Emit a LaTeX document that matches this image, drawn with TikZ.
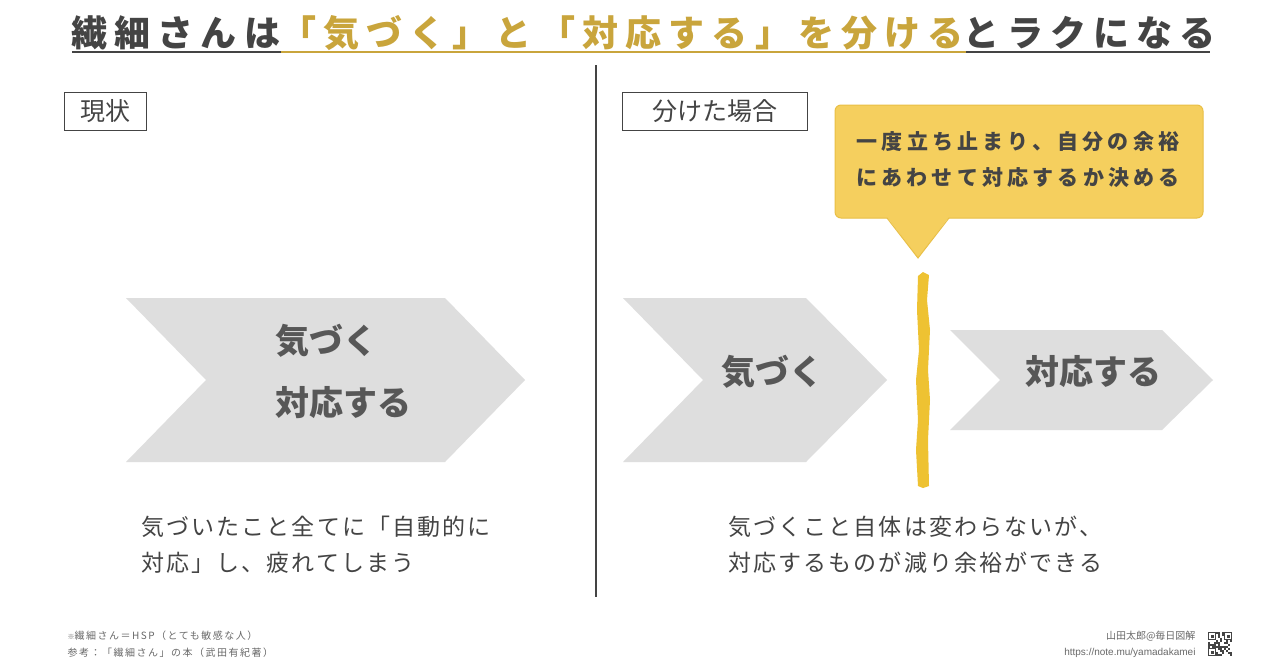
\documentclass[tikz,border=0pt]{standalone}
\usepackage{fontspec}
\newfontfamily\jp{Noto Sans CJK JP}
\newfontfamily\jpt[LetterSpace=20]{Noto Sans CJK JP}
\newfontfamily\jpb[LetterSpace=9]{Noto Sans CJK JP}
\newfontfamily\jpc[LetterSpace=20]{Noto Sans CJK JP}
\newfontfamily\jps[LetterSpace=15]{Noto Sans CJK JP}
\newfontfamily\lat{Liberation Sans}
\definecolor{dk}{HTML}{444444}
\definecolor{gold}{HTML}{C9A53C}
\definecolor{chev}{HTML}{DEDEDE}
\definecolor{ylw}{HTML}{F5CF5E}
\definecolor{ylwb}{HTML}{E9BF45}
\definecolor{bar}{HTML}{EEC232}
\begin{document}
\begin{tikzpicture}[x=1pt,y=-1pt,
  lbl/.style={draw=dk,line width=1pt,inner sep=0pt,minimum height=38pt,font=\jp\fontsize{25}{25}\selectfont,text=dk,anchor=north west},
  big/.style={font=\jp\bfseries\fontsize{34}{34}\selectfont,text=dk!90},
  body/.style={font=\jpb\fontsize{23}{23}\selectfont,text=dk,anchor=west},
  small/.style={font=\jps\fontsize{10}{10}\selectfont,text=dk!80}]
\useasboundingbox[fill=white] (0,0) rectangle (1280,670);
% title
\node[font=\jpt\bfseries\fontsize{36}{36}\selectfont,anchor=west,inner sep=0pt] (t) at (71,33)
 {\textcolor{dk}{繊細さんは}\textcolor{gold}{「気づく」と「対応する」を分ける}\textcolor{dk}{とラクになる}};
\draw[dk,line width=1.5pt] (72,52) -- (281,52);
\draw[gold,line width=1.5pt] (281,52) -- (966,52);
\draw[dk,line width=1.5pt] (966,52) -- (1210,52);
\draw[dk,line width=1.2pt] (596,65) -- (596,597);
% labels
\node[lbl,minimum width=82pt] (a) at (64,92) {現状};
\node[lbl,minimum width=185pt] (b) at (622,92) {分けた場合};
% left chevron
\fill[chev] (126,298) -- (445,298) -- (525,380) -- (445,462) -- (126,462) -- (206,380) -- cycle;
\node[big,anchor=west] (l1) at (272,341) {気づく};
\node[big,anchor=west] (l2) at (272,403) {対応する};
% right chevrons
\fill[chev] (623,298) -- (806,298) -- (887,380) -- (806,462) -- (623,462) -- (703,380) -- cycle;
\node[big] (r1) at (772,372) {気づく};
\fill[chev] (950,330) -- (1162,330) -- (1213,380) -- (1162,430) -- (950,430) -- (1000,380) -- cycle;
\node[big] (r2) at (1093,372) {対応する};
% bar
\fill[bar] (918,276) -- (923,272) -- (929,275) -- (927,300) -- (930,330) -- (928,370) -- (930,400) -- (928,440) -- (929,486) -- (923,488) -- (918,486) -- (916,450) -- (918,420) -- (916,380) -- (919,350) -- (917,310) -- cycle;
% callout
\draw[ylwb,fill=ylw,line width=1pt,rounded corners=6pt] (835,105) rectangle (1203,218);
\fill[ylw] (887,217) -- (918,258) -- (949,217) -- cycle;
\draw[ylwb,line width=1pt] (887,218) -- (918,258) -- (949,218);
\node[font=\jpc\bfseries\fontsize{21}{36}\selectfont,text=dk,align=center] (c) at (1018,160)
 {一度立ち止まり、自分の余裕\\にあわせて対応するか決める};
% bodies
\node[body] (bl1) at (138,527) {気づいたこと全てに「自動的に};
\node[body] (bl2) at (138,563) {対応」し、疲れてしまう};
\node[body] (br1) at (725,527) {気づくこと自体は変わらないが、};
\node[body] (br2) at (725,563) {対応するものが減り余裕ができる};
% footnotes
\node[small,anchor=west] (f1) at (64,636) {\fontsize{7}{7}\selectfont ※\fontsize{10}{10}\selectfont 繊細さん＝HSP（とても敏感な人）};
\node[small,anchor=west] (f2) at (64,653) {参考：「繊細さん」の本（武田有紀著）};
\node[small,anchor=east,font=\jp\fontsize{10}{10}\selectfont] (f3) at (1199,636) {山田太郎@毎日図解};
\node[small,anchor=east,font=\lat\fontsize{10}{10}\selectfont] (f4) at (1199,653) {https://note.mu/yamadakamei};
% qr
\begin{scope}[shift={(1208,632)}]
\pgfmathsetseed{7}
\foreach \i in {0,...,11}{\foreach \j in {0,...,11}{
  \pgfmathparse{rnd>0.5?1:0}
  \ifnum\pgfmathresult=1 \fill[dk] (\i*2,\j*2) rectangle ++(2,2);\fi}}
\foreach \p in {(0,0),(16,0),(0,16)}{\fill[white] \p rectangle ++(8,8);\draw[dk,line width=1.4pt] \p ++(0.7,0.7) rectangle ++(6.6,6.6);\fill[dk] \p ++(2.5,2.5) rectangle ++(3,3);}
\end{scope}
\end{tikzpicture}
\end{document}
